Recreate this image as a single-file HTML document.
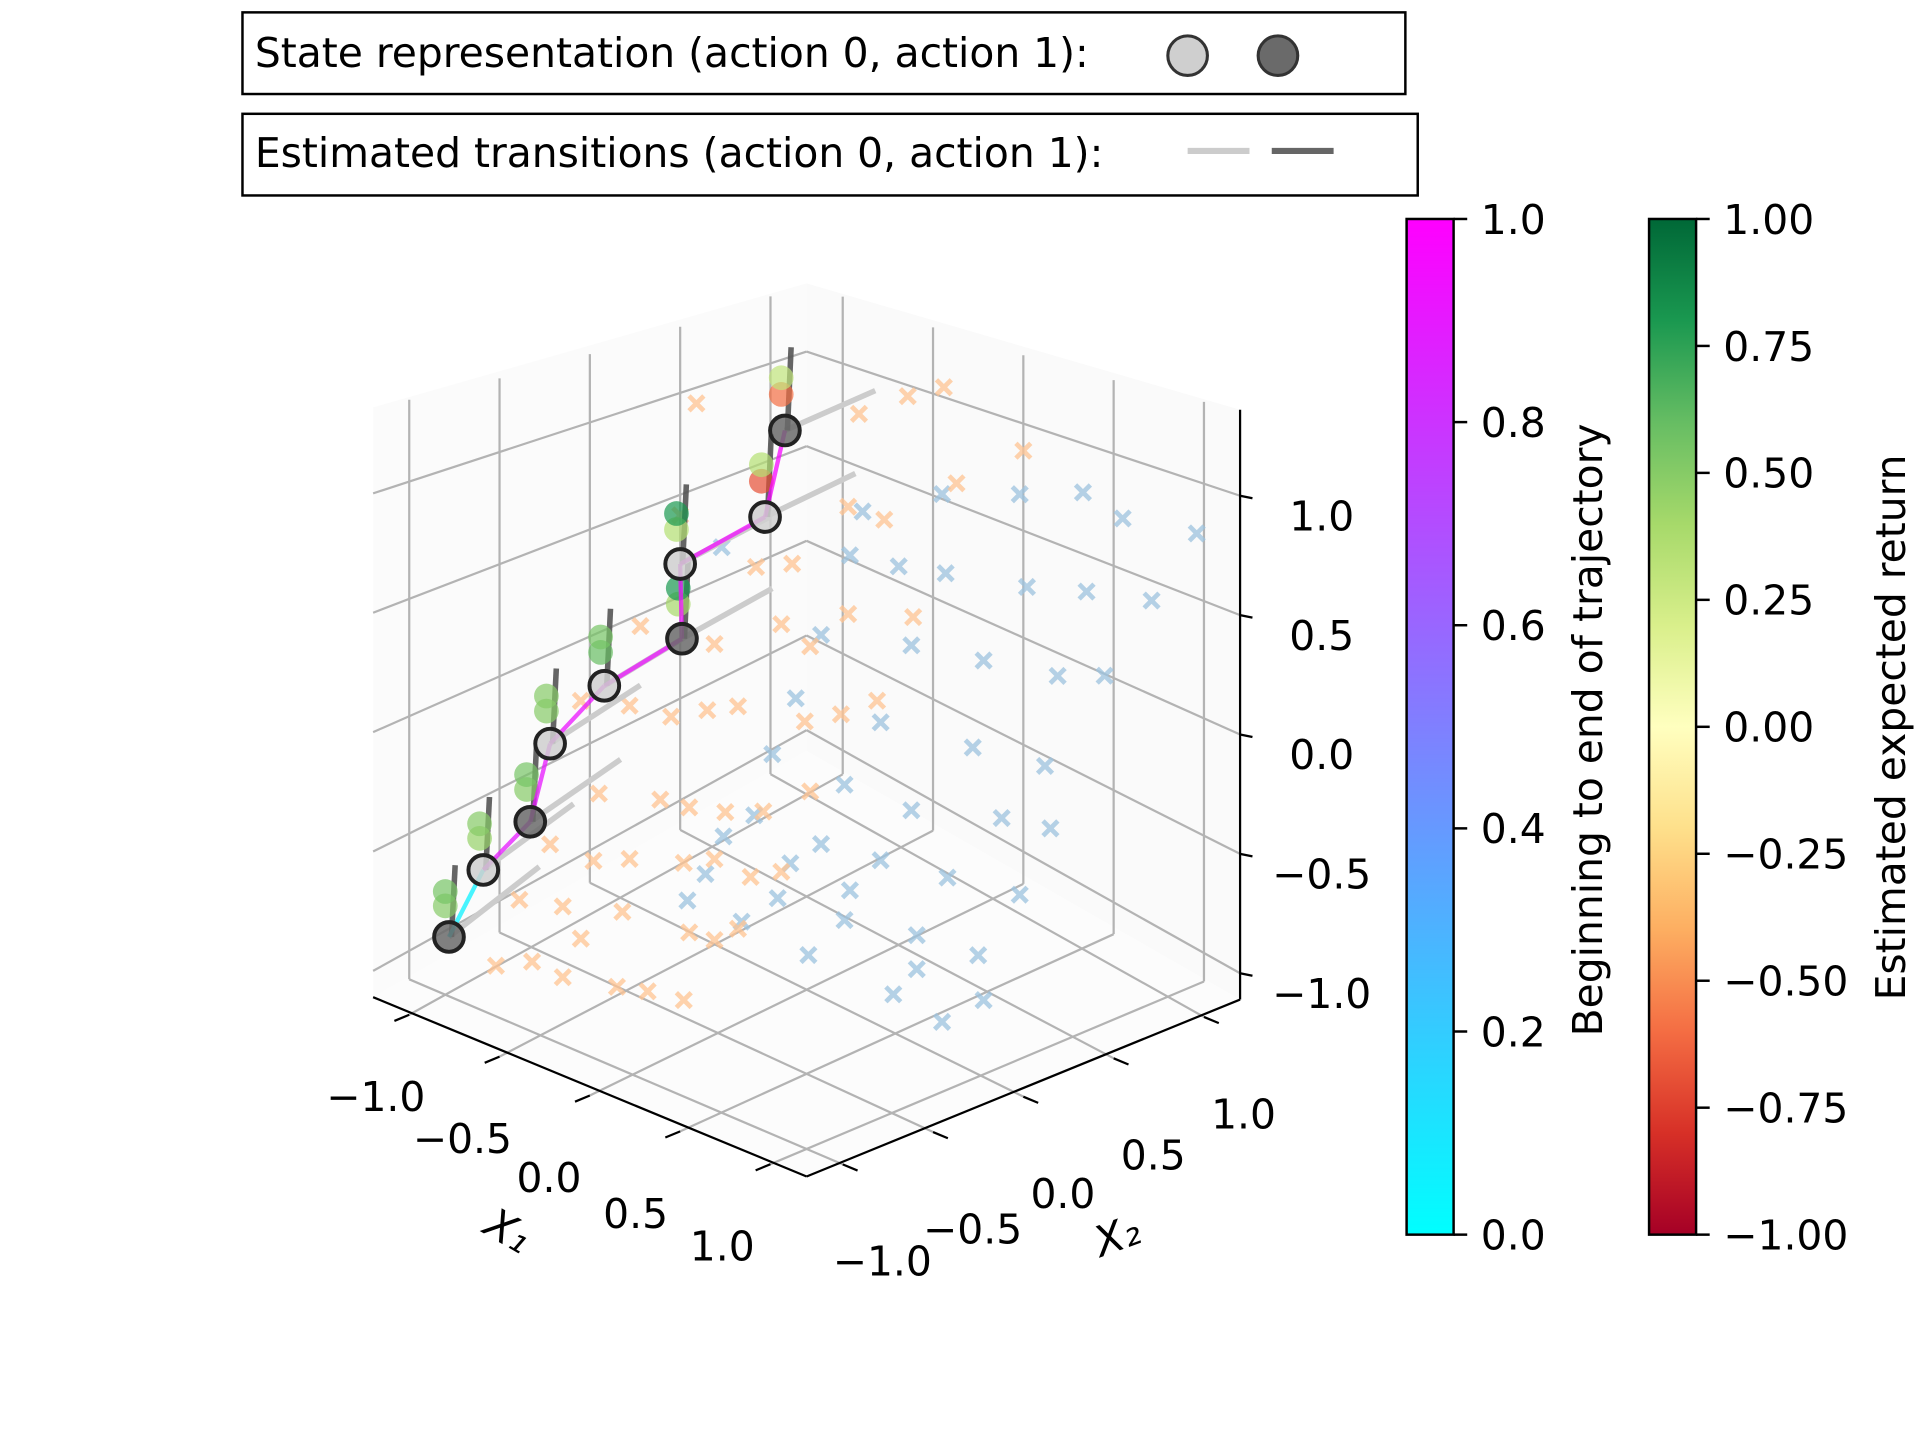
<!DOCTYPE html>
<html><head><meta charset="utf-8"><style>
html,body{margin:0;padding:0;background:#fff;}
svg{display:block;font-family:"DejaVu Sans","Liberation Sans",sans-serif;}
</style></head><body>
<svg id="chart" width="1920" height="1440" viewBox="0 0 1552 1164" preserveAspectRatio="none" xmlns="http://www.w3.org/2000/svg">
<defs>
<linearGradient id="gcool" x1="0" y1="1" x2="0" y2="0"><stop offset="0" stop-color="#00ffff"/><stop offset="1" stop-color="#ff00ff"/></linearGradient>
<linearGradient id="grdylgn" x1="0" y1="1" x2="0" y2="0">
<stop offset="0" stop-color="#a50026"/><stop offset="0.1" stop-color="#d73027"/><stop offset="0.2" stop-color="#f46d43"/><stop offset="0.3" stop-color="#fdae61"/><stop offset="0.4" stop-color="#fee08b"/><stop offset="0.5" stop-color="#ffffbf"/><stop offset="0.6" stop-color="#d9ef8b"/><stop offset="0.7" stop-color="#a6d96a"/><stop offset="0.8" stop-color="#66bd63"/><stop offset="0.9" stop-color="#1a9850"/><stop offset="1" stop-color="#006837"/></linearGradient>
</defs>
<g id="panes"></g>
<g id="grid"></g>
<g id="axes"></g>
<g id="marks"></g>

<g>
<rect x="196" y="10" width="940" height="66" fill="#fff" stroke="#000" stroke-width="2"/>
<text x="206" y="54" font-size="33">State representation (action 0, action 1):</text>
<circle cx="960" cy="45" r="16" fill="#cfcfcf" stroke="#333" stroke-width="2.5"/>
<circle cx="1033" cy="45" r="16" fill="#6a6a6a" stroke="#333" stroke-width="2.5"/>
</g>
<g>
<rect x="196" y="92" width="950" height="66" fill="#fff" stroke="#000" stroke-width="2"/>
<text x="206" y="135" font-size="33">Estimated transitions (action 0, action 1):</text>
<line x1="960" y1="122" x2="1010" y2="122" stroke="#cccccc" stroke-width="5"/>
<line x1="1028" y1="122" x2="1078" y2="122" stroke="#666" stroke-width="5"/>
</g>

<g>
<rect x="1137" y="177" width="38" height="821" fill="url(#gcool)" stroke="#000" stroke-width="2"/>
<g id="cb1ticks"></g>
<text transform="translate(1295,590) rotate(-90)" text-anchor="middle" font-size="33">Beginning to end of trajectory</text>
</g>
<g>
<rect x="1333" y="177" width="38" height="821" fill="url(#grdylgn)" stroke="#000" stroke-width="2"/>
<g id="cb2ticks"></g>
<text transform="translate(1540,588) rotate(-90)" text-anchor="middle" font-size="33">Estimated expected return</text>
</g>
</svg>
<script>
// ---- data ----
const ticks = [-1.0, -0.5, 0.0, 0.5, 1.0];
const tickLabels = ["\u22121.0", "\u22120.5", "0.0", "0.5", "1.0"];
const blueX1 = [-1.07,-0.29,0.15,0.58,0.93,1.15,1.56,-0.36,-0.09,0.17,0.62,0.95,1.31,-0.52,-0.02,0.38,0.79,1.05,-0.66,-0.19,0.32,0.72,-0.79,-0.39,-0.02,0.48,0.75,-0.89,-0.52,-0.19,0.18,0.58,-1.06,-0.69,-0.36,0.01,0.35,-1.16,-0.76,-0.39,0.01,0.38,-1.26,-0.96,-0.59,-0.12,0.15];
const blueZ  = [0.29,0.72,0.91,1.0,1.07,1.0,1.0,0.5,0.53,0.57,0.62,0.67,0.7,0.08,0.2,0.25,0.29,0.35,-0.27,-0.2,-0.14,-0.1,-0.59,-0.56,-0.53,-0.39,-0.35,-0.93,-0.89,-0.82,-0.75,-0.68,-1.12,-1.06,-1.03,-1.07,-1.02,-1.36,-1.26,-1.18,-1.22,-1.2,-1.55,-1.48,-1.44,-1.39,-1.39];
const blueX2 = 0.6;
const orangeX1 = [-0.01,-0.1,0.89,1.16,1.36,0.32,0.52,0.83,1.03,1.43,1.8,-0.32,0.09,0.46,0.62,0.83,1.19,-0.65,-0.38,-0.15,0.05,0.22,0.59,0.79,0.99,-0.55,-0.21,-0.05,0.15,0.36,0.62,-0.82,-0.58,-0.38,-0.08,0.09,0.29,0.46,-1.12,-0.92,-0.75,-0.45,-0.28,-0.08,-0.65,-0.99,-0.75,-0.42,-0.05,0.09,0.22];
const orangeZ  = [1.46,1.0,1.50,1.58,1.62,0.86,0.9,1.15,1.12,1.28,1.41,0.51,0.52,0.66,0.6,0.75,0.78,0.12,0.17,0.18,0.25,0.3,0.31,0.37,0.45,-0.24,-0.17,-0.16,-0.13,-0.08,0.05,-0.54,-0.53,-0.46,-0.39,-0.33,-0.35,-0.29,-1.18,-1.08,-1.08,-1.01,-0.97,-0.94,-0.88,-0.84,-0.78,-0.69,-0.66,-0.65,-0.57];
const orangeX2 = -0.6;
const trajX1 = [-0.98,-0.79,-0.53,-0.42,-0.12,0.31,0.30,0.77,0.88];
const trajZ  = [-0.85,-0.51,-0.24,0.10,0.39,0.64,0.92,1.14,1.46];
const trajX2 = -1.0;
const trajAction = [1,0,1,0,0,1,0,0,1];
const trajT = [0.05,0.9,0.91,0.92,0.93,0.94,0.95,0.97];
const returnA = [0.55,0.5,0.55,0.5,0.55,0.8,0.8,0.35,0.3];
const returnB = [0.5,0.45,0.5,0.5,0.6,0.4,0.35,-0.7,-0.6];
const cb1Ticks = [0.0,0.2,0.4,0.6,0.8,1.0];
const cb2Ticks = [-1.0,-0.75,-0.5,-0.25,0.0,0.25,0.5,0.75,1.0];

// ---- projection ----
const NS="http://www.w3.org/2000/svg";
const L=1.2, ZMIN=-1.11, ZMAX=1.36;
function P(x1,x2,z){
 const u=(x2-x1)/2.4, w=u*(1+u)/2;
 const zs=193-40*u;
 const X=652+146*x1+146*x2;
 const Y=807+60.4*x1-59.6*x2-56*w-zs*(z-ZMIN);
 return [X,Y];
}
function mk(parent,tag,attrs){const e=document.createElementNS(NS,tag);for(const k in attrs)e.setAttribute(k,attrs[k]);parent.appendChild(e);return e;}
const panes=document.getElementById('panes'),grid=document.getElementById('grid'),axes=document.getElementById('axes'),marks=document.getElementById('marks');
function poly(pts){return pts.map(p=>p.join(',')).join(' ');}
let pa=mk(panes,'polygon',{points:poly([P(-L,-L,ZMIN),P(-L,L,ZMIN),P(-L,L,ZMAX),P(-L,-L,ZMAX)]),fill:'#fbfbfb',stroke:'none'});

pa=mk(panes,'polygon',{points:poly([P(-L,L,ZMIN),P(L,L,ZMIN),P(L,L,ZMAX),P(-L,L,ZMAX)]),fill:'#fafafa',stroke:'none'});

pa=mk(panes,'polygon',{points:poly([P(-L,-L,ZMIN),P(L,-L,ZMIN),P(L,L,ZMIN),P(-L,L,ZMIN)]),fill:'#fcfcfc',stroke:'none'});

function gl(a,b){const l=mk(grid,'line',{x1:a[0],y1:a[1],x2:b[0],y2:b[1],stroke:'#b3b3b3','stroke-width':1.8});
}
ticks.forEach(t=>{
 gl(P(t,-L,ZMIN),P(t,L,ZMIN)); gl(P(t,L,ZMIN),P(t,L,ZMAX));
 gl(P(-L,t,ZMIN),P(L,t,ZMIN)); gl(P(-L,t,ZMIN),P(-L,t,ZMAX));
 gl(P(-L,-L,t),P(-L,L,t)); gl(P(-L,L,t),P(L,L,t));
});
function al(a,b){const l=mk(axes,'line',{x1:a[0],y1:a[1],x2:b[0],y2:b[1],stroke:'#000','stroke-width':1.8});
}
al(P(-L,-L,ZMIN),P(L,-L,ZMIN)); al(P(L,-L,ZMIN),P(L,L,ZMIN)); al(P(L,L,ZMIN),P(L,L,ZMAX));
ticks.forEach((t,i)=>{
 let a=P(t,-L,ZMIN); al(a,[a[0]-12,a[1]+5]);
 let tx=mk(axes,'text',{x:a[0]-33-6*t,y:a[1]+78,'font-size':33,'text-anchor':'middle'}); tx.textContent=tickLabels[i];
 
 a=P(L,t,ZMIN); al(a,[a[0]+12,a[1]+5]);
 tx=mk(axes,'text',{x:a[0]+32,y:a[1]+90,'font-size':33,'text-anchor':'middle'}); tx.textContent=tickLabels[i];
 
 a=P(L,L,t); al(a,[a[0]+10,a[1]+2]);
 tx=mk(axes,'text',{x:a[0]+66,y:a[1]+28,'font-size':33,'text-anchor':'middle'}); tx.textContent=tickLabels[i];
 
});
let lab=mk(axes,'text',{transform:'translate(405,1005) rotate(30)','font-size':34,'font-style':'italic','text-anchor':'middle'});lab.textContent='X\u2081';

lab=mk(axes,'text',{transform:'translate(907,1010) rotate(-20)','font-size':34,'font-style':'italic','text-anchor':'middle'});lab.textContent='X\u2082';


function cross(x,y,col,name){const g=mk(marks,'g',{stroke:col,'stroke-width':3.8,opacity:0.75});
 
 mk(g,'line',{x1:x-6,y1:y-6,x2:x+6,y2:y+6});mk(g,'line',{x1:x-6,y1:y+6,x2:x+6,y2:y-6});}
blueX1.forEach((v,i)=>{const p=P(v,blueX2,blueZ[i]);cross(p[0],p[1],'#9dc3df','state-point-blue');});
orangeX1.forEach((v,i)=>{const p=P(v,orangeX2,orangeZ[i]);cross(p[0],p[1],'#ffc492','state-point-orange');});

function rc(v){const t=(v+1)/2;const st=[[165,0,38],[215,48,39],[244,109,67],[253,174,97],[254,224,139],[255,255,191],[217,239,139],[166,217,106],[102,189,99],[26,152,80],[0,104,55]];
 const f=t*10,i=Math.min(9,Math.floor(f)),r=f-i;const c=st[i].map((a,k)=>Math.round(a+(st[i+1][k]-a)*r));return 'rgb('+c.join(',')+')';}
trajX1.forEach((v,i)=>{
 const p=P(v,trajX2,trajZ[i]);
 const e0=P(v,trajX2+0.5,trajZ[i]+0.12);
 let l=mk(marks,'line',{x1:p[0],y1:p[1],x2:e0[0],y2:e0[1],stroke:'#cccccc','stroke-width':4.5});
 
 const e1=P(v,trajX2,trajZ[i]+0.3);
 l=mk(marks,'line',{x1:p[0]+2,y1:p[1],x2:e1[0]+5,y2:e1[1],stroke:'#555','stroke-width':4.5,opacity:0.9});
 
 const a=P(v,trajX2,trajZ[i]+0.13),b=P(v,trajX2,trajZ[i]+0.19);
 let c=mk(marks,'circle',{cx:a[0]-3,cy:a[1],r:10,fill:rc(returnB[i]),opacity:0.7});
 
 c=mk(marks,'circle',{cx:b[0]-3,cy:b[1],r:10,fill:rc(returnA[i]),opacity:0.7});
 
});
for(let i=0;i<trajX1.length-1;i++){
 const a=P(trajX1[i],trajX2,trajZ[i]),b=P(trajX1[i+1],trajX2,trajZ[i+1]);
 const t=trajT[i];const col='rgb('+Math.round(255*t)+','+Math.round(255*(1-t))+',255)';
 const l=mk(marks,'line',{x1:a[0],y1:a[1],x2:b[0],y2:b[1],stroke:col,'stroke-width':3.5,opacity:0.75});
 
}
trajX1.forEach((v,i)=>{const p=P(v,trajX2,trajZ[i]);
 const c=mk(marks,'circle',{cx:p[0],cy:p[1],r:12,fill:trajAction[i]?'#6a6a6a':'#cfcfcf',stroke:'#222','stroke-width':3.2,'fill-opacity':0.85});
 });

// colorbars
const cb1=document.getElementById('cb1ticks'),cb2=document.getElementById('cb2ticks');
cb1Ticks.forEach(t=>{const y=998-821*t;mk(cb1,'line',{x1:1175,y1:y,x2:1186,y2:y,stroke:'#000','stroke-width':2});
 const tx=mk(cb1,'text',{x:1197,y:y+12,'font-size':33});tx.textContent=t.toFixed(1);
 });
cb2Ticks.forEach(t=>{const y=998-821*(t+1)/2;mk(cb2,'line',{x1:1371,y1:y,x2:1382,y2:y,stroke:'#000','stroke-width':2});
 const tx=mk(cb2,'text',{x:1393,y:y+12,'font-size':33});tx.textContent=(t<0?'\u2212':'')+Math.abs(t).toFixed(2);
 });
</script>
</body></html>
